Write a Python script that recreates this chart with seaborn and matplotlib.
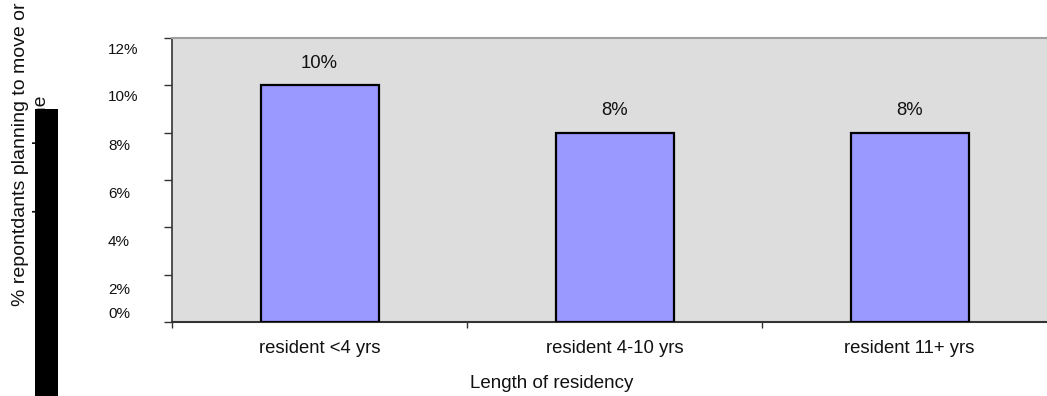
import matplotlib
matplotlib.use("Agg")
import matplotlib.pyplot as plt
import matplotlib.transforms as mtransforms
from matplotlib.patches import Rectangle
import seaborn as sns

# Data
categories = ["resident <4 yrs", "resident 4-10 yrs", "resident 11+ yrs"]
values = [10, 8, 8]  # percent of respondents
ytick_values = [0, 2, 4, 6, 8, 10, 12]
ytick_labels = [f"{t}%" for t in ytick_values]

# Layout: vertical nudges (pixels, positive = down) for each y tick label
ylabel_nudge_px = [-9, 14, 13, 12, 12, 10, 10]

W, H, DPI = 1047, 396, 100
plt.rcParams["font.family"] = ["Liberation Sans", "DejaVu Sans"]

fig = plt.figure(figsize=(W / DPI, H / DPI), dpi=DPI, facecolor="white")
# plot area runs past the right edge of the figure
ax = fig.add_axes([172 / W, (H - 322) / H, (1057 - 172) / W, (322 - 38) / H])
ax.set_facecolor("#DDDDDD")

sns.barplot(x=categories, y=values, color="#9999FF", saturation=1, width=0.4,
            edgecolor="black", linewidth=1.6, ax=ax, zorder=3)

ax.set_xlim(-0.5, 2.5)
ax.set_ylim(0, 12)

# value labels above bars
for i, v in enumerate(values):
    ax.annotate(f"{v}%", (i, v), xytext=(0, 16.0), textcoords="offset points",
                ha="center", va="center", fontsize=13.3, color="#111111")

# spines
ax.spines["right"].set_visible(False)
ax.spines["top"].set_color("#A0A0A0")
ax.spines["top"].set_linewidth(1.5)
ax.spines["left"].set_color("#333333")
ax.spines["left"].set_linewidth(1.2)
ax.spines["bottom"].set_color("#333333")
ax.spines["bottom"].set_linewidth(1.5)

# x axis: labels at category centres, tick marks on category boundaries
ax.set_xticks(range(len(categories)))
ax.set_xticklabels(categories, fontsize=13.3, color="#111111")
ax.set_xticks([-0.5, 0.5, 1.5, 2.5], minor=True)
ax.tick_params(axis="x", which="major", length=0, pad=13)
ax.tick_params(axis="x", which="minor", length=4.3, width=1, color="#333333")

ax.set_xlabel("Length of residency", fontsize=13.5, color="#111111")
ax.xaxis.set_label_coords((552 - 172) / (1057 - 172), (322 - 383) / (322 - 38))
ax.xaxis.label.set_va("center")

# y axis
ax.set_yticks(ytick_values)
ax.set_yticklabels(ytick_labels, fontsize=11, color="#111111")
ax.tick_params(axis="y", length=5.8, width=1, color="#333333", pad=40.3)
for lab, dy in zip(ax.get_yticklabels(), ylabel_nudge_px):
    lab.set_ha("left")
    lab.set_transform(lab.get_transform() +
                      mtransforms.ScaledTranslation(0, -dy / DPI, fig.dpi_scale_trans))

fig.text(31 / W, 1 - 154 / H, "% repontdants planning to move or\nleave a home",
         rotation=90, ha="center", va="center", fontsize=14, linespacing=1.26,
         color="#111111")

# solid black block on the left
fig.add_artist(Rectangle((35 / W, 0), 23 / W, (H - 109) / H,
                         transform=fig.transFigure, facecolor="black",
                         edgecolor="none", zorder=10))

fig.savefig("out.png", dpi=DPI)
